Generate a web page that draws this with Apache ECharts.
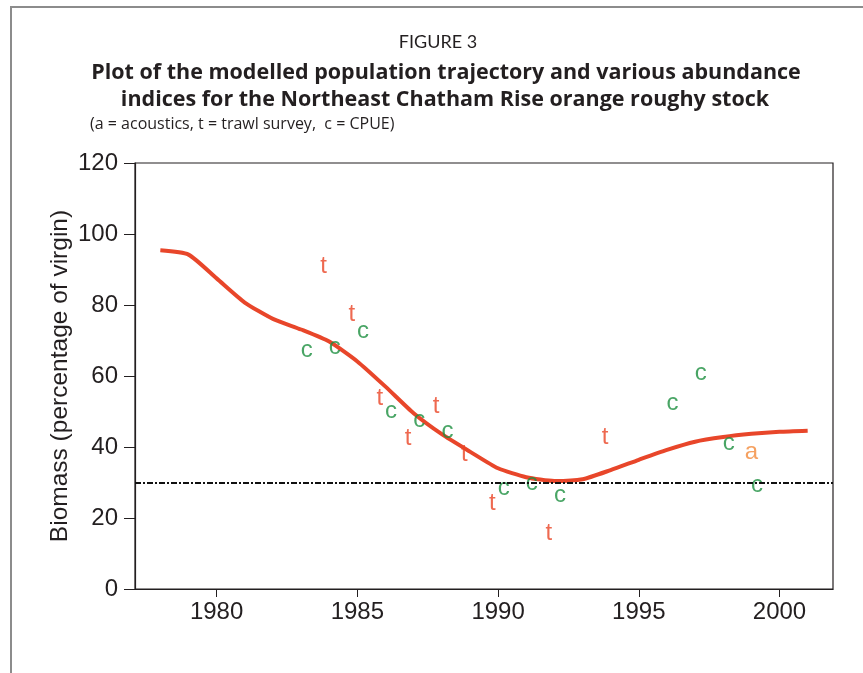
<!DOCTYPE html>
<html>
<head>
<meta charset="utf-8">
<script src="https://cdn.jsdelivr.net/npm/echarts@6/dist/echarts.min.js"></script>
<style>
html,body{margin:0;padding:0;background:#fff;}
#main{width:863px;height:673px;}
</style>
</head>
<body>
<div id="main"></div>
<script>
// modelled trajectory
var modelYears = [1978,1979,1980,1981,1982,1983,1984,1985,1986,1987,1988,1989,1990,1991,1992,1993,1994,1995,1996,1997,1998,1999,2000,2001];
var modelBiomass = [95.4,94.2,87.5,80.7,76.1,73.1,69.7,64.1,57.0,49.5,43.6,38.7,34.0,31.5,30.4,30.9,33.5,36.4,39.2,41.5,42.8,43.7,44.3,44.6];
// trawl survey (t)
var trawlYears = [1983.8,1984.8,1985.8,1986.8,1987.8,1988.8,1989.8,1991.8,1993.8];
var trawlIndex = [90.9,77.5,53.8,42.5,51.4,37.8,24.2,15.7,42.8];
// CPUE (c)
var cpueYears = [1983.2,1984.2,1985.2,1986.2,1987.2,1988.2,1990.2,1991.2,1992.2,1996.2,1997.2,1998.2,1999.2];
var cpueIndex = [67.1,68.0,72.7,50.0,47.6,44.5,28.4,29.8,26.3,52.2,60.6,40.9,29.3];
// acoustics (a)
var acousticYears = [1999.0];
var acousticIndex = [38.4];
var refLevel = 30;
var xTicks = [1980,1985,1990,1995,2000];

function pairs(xs, ys){
    var out = [];
    for (var i = 0; i < xs.length; i++) out.push([xs[i], ys[i]]);
    return out;
}

function letterSeries(name, xs, ys, letter, color){
    return {
        name: name,
        type: 'scatter',
        data: pairs(xs, ys),
        symbol: 'circle',
        symbolSize: 1,
        itemStyle: {color: 'rgba(0,0,0,0)'},
        label: {
            show: true,
            position: 'inside',
            formatter: letter,
            color: color,
            fontSize: 24,
            fontFamily: 'Liberation Sans',
            align: 'center',
            verticalAlign: 'middle'
        },
        z: 3
    };
}

var ink = '#231f20';
var myChart = echarts.init(document.getElementById('main'));
var option = {
    backgroundColor: '#fff',
    animation: false,
    graphic: [
        {type:'line', shape:{x1:11,y1:7,x2:11,y2:673}, style:{stroke:'#8c8c8c', lineWidth:2}},
        {type:'line', shape:{x1:10,y1:7,x2:863,y2:7}, style:{stroke:'#8c8c8c', lineWidth:2}},
        {type:'text', x:438, y:42, style:{text:'FIGURE 3', fill:ink, font:'18px Lato', align:'center', verticalAlign:'middle'}},
        {type:'text', x:446, y:73, style:{text:'Plot of the modelled population trajectory and various abundance', fill:ink, font:'bold 21.5px "Open Sans"', align:'center', verticalAlign:'middle'}},
        {type:'text', x:445, y:100, style:{text:'indices for the Northeast Chatham Rise orange roughy stock', fill:ink, font:'bold 21.5px "Open Sans"', align:'center', verticalAlign:'middle'}},
        {type:'text', x:90, y:124, style:{text:'(a = acoustics, t = trawl survey,  c = CPUE)', fill:ink, font:'16px "Open Sans"', align:'left', verticalAlign:'middle'}}
    ],
    grid: {
        left: 135, top: 163, right: 30, bottom: 84,
        show: true, borderColor: ink, borderWidth: 1.2
    },
    xAxis: {
        type: 'value',
        min: 1977.1,
        max: 2001.9,
        axisLine: {show: true, lineStyle: {color: ink, width: 1.2}},
        axisTick: {show: true, length: 8, customValues: xTicks, lineStyle: {color: ink}},
        axisLabel: {
            customValues: xTicks,
            formatter: function(v){ return String(v); },
            color: ink, fontSize: 24, fontFamily: 'Liberation Sans', margin: 11
        },
        splitLine: {show: false}
    },
    yAxis: {
        type: 'value',
        min: 0,
        max: 120,
        interval: 20,
        name: 'Biomass (percentage of virgin)',
        nameLocation: 'middle',
        nameGap: 62,
        nameMoveOverlap: false,
        nameTextStyle: {color: ink, fontSize: 24.5, fontFamily: 'Liberation Sans'},
        axisLine: {show: true, lineStyle: {color: ink, width: 1.2}},
        axisTick: {show: true, length: 11, lineStyle: {color: ink}},
        axisLabel: {color: ink, fontSize: 24, fontFamily: 'Liberation Sans', margin: 17},
        splitLine: {show: false}
    },
    series: [
        {
            name: 'model',
            type: 'line',
            data: pairs(modelYears, modelBiomass),
            showSymbol: false,
            smooth: 0.2,
            lineStyle: {color: '#e8462a', width: 4},
            markLine: {
                silent: true,
                symbol: 'none',
                label: {show: false},
                lineStyle: {color: '#111', width: 2, type: [6,2,2,2]},
                data: [{yAxis: refLevel}]
            },
            z: 2
        },
        letterSeries('trawl', trawlYears, trawlIndex, 't', '#ea4424'),
        letterSeries('cpue', cpueYears, cpueIndex, 'c', '#1b8f3e'),
        letterSeries('acoustics', acousticYears, acousticIndex, 'a', '#f28a3a')
    ]
};
myChart.setOption(option);
</script>
</body>
</html>
